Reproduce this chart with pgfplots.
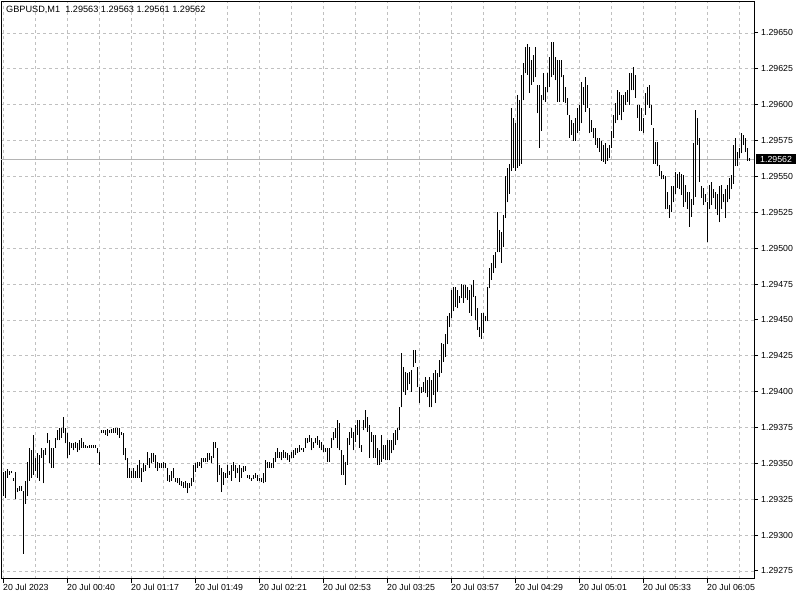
\documentclass[border=0pt]{standalone}
\usepackage{pgfplots}
\usepackage{pgfplotstable}
\pgfplotsset{compat=1.18}
\usepackage{fontspec}
\setmainfont{Liberation Sans}

% GBPUSD M1 bars, low / high in points above 1.29000 (e.g. 563 = 1.29563)
\pgfplotstableread[row sep=\\]{
lo hi\\
327 344\\ 326 345\\ 340 346\\ 342 345\\ 343 345\\ 338 340\\ 325 344\\ 330 333\\ 331 334\\ 331 334\\
287 331\\ 322 338\\ 327 351\\ 338 361\\ 340 359\\ 342 370\\ 345 354\\ 340 357\\ 338 356\\ 354 361\\
336 359\\ 356 361\\ 364 371\\ 350 366\\ 347 361\\ 347 361\\ 361 368\\ 366 373\\ 366 375\\ 368 375\\
371 382\\ 364 375\\ 354 371\\ 356 365\\ 361 364\\ 359 364\\ 361 365\\ 358 364\\ 359 366\\ 361 368\\
361 365\\ 361 363\\ 361 362\\ 361 363\\ 361 363\\ 361 363\\ 361 363\\ 357 361\\ 349 358\\ 371 373\\
371 373\\ 370 373\\ 369 374\\ 371 373\\ 371 374\\ 371 375\\ 371 375\\ 370 375\\ 368 375\\ 370 372\\
356 371\\ 352 361\\ 340 354\\ 340 347\\ 340 345\\ 340 347\\ 340 345\\ 340 349\\ 340 352\\ 337 347\\
344 350\\ 345 349\\ 349 358\\ 347 354\\ 350 357\\ 351 357\\ 347 356\\ 345 351\\ 347 350\\ 347 350\\
347 351\\ 347 350\\ 338 347\\ 337 342\\ 338 345\\ 340 347\\ 337 340\\ 336 340\\ 335 340\\ 334 338\\
333 337\\ 333 338\\ 329 336\\ 333 336\\ 334 340\\ 337 349\\ 344 350\\ 347 351\\ 348 351\\ 347 354\\
351 354\\ 351 354\\ 351 357\\ 352 357\\ 350 355\\ 354 365\\ 361 365\\ 337 361\\ 342 349\\ 330 347\\
335 344\\ 340 343\\ 340 349\\ 342 345\\ 338 349\\ 345 351\\ 340 349\\ 343 347\\ 337 349\\ 340 347\\
344 348\\ 345 348\\ 340 342\\ 339 342\\ 338 340\\ 339 342\\ 340 343\\ 338 342\\ 338 340\\ 337 340\\
336 343\\ 337 352\\ 347 351\\ 347 351\\ 347 350\\ 347 354\\ 351 358\\ 354 361\\ 354 358\\ 352 358\\
354 359\\ 354 358\\ 352 357\\ 351 356\\ 354 358\\ 354 359\\ 356 361\\ 357 361\\ 358 363\\ 359 361\\
358 361\\ 361 368\\ 364 368\\ 365 370\\ 359 368\\ 361 365\\ 364 368\\ 363 369\\ 361 366\\ 359 365\\
358 363\\ 358 361\\ 351 361\\ 351 361\\ 361 368\\ 366 372\\ 368 375\\ 361 380\\ 359 378\\ 342 359\\
342 356\\ 335 351\\ 349 368\\ 363 372\\ 368 375\\ 359 372\\ 365 377\\ 370 380\\ 361 380\\ 358 363\\
373 380\\ 375 387\\ 372 382\\ 354 377\\ 365 372\\ 354 370\\ 354 370\\ 349 361\\ 349 359\\ 351 370\\
353 363\\ 352 363\\ 352 366\\ 352 366\\ 357 366\\ 359 371\\ 363 373\\ 366 375\\ 373 389\\ 389 427\\
400 417\\ 398 414\\ 401 413\\ 405 414\\ 400 415\\ 417 429\\ 420 429\\ 403 417\\ 392 403\\ 399 403\\
400 407\\ 399 410\\ 396 408\\ 389 410\\ 389 408\\ 398 413\\ 392 415\\ 400 413\\ 410 422\\ 413 434\\
421 433\\ 424 440\\ 433 453\\ 445 455\\ 451 471\\ 456 473\\ 459 473\\ 458 471\\ 462 467\\ 465 475\\
462 474\\ 465 474\\ 464 473\\ 455 471\\ 453 474\\ 466 478\\ 450 467\\ 443 458\\ 438 445\\ 437 455\\
441 455\\ 449 453\\ 449 473\\ 472 486\\ 478 490\\ 483 495\\ 486 497\\ 497 525\\ 497 513\\ 490 511\\
501 523\\ 521 550\\ 532 556\\ 538 559\\ 554 598\\ 556 591\\ 554 587\\ 556 607\\ 557 603\\ 559 621\\
603 629\\ 622 640\\ 621 642\\ 608 640\\ 614 631\\ 616 635\\ 619 640\\ 594 614\\ 570 614\\ 582 607\\
603 622\\ 602 612\\ 609 622\\ 612 633\\ 619 644\\ 621 644\\ 617 633\\ 602 631\\ 602 631\\ 619 631\\
602 621\\ 601 612\\ 593 605\\ 577 593\\ 579 589\\ 575 587\\ 575 591\\ 580 598\\ 582 600\\ 587 616\\
600 612\\ 595 619\\ 598 614\\ 580 598\\ 581 589\\ 577 584\\ 572 584\\ 570 577\\ 567 577\\ 561 575\\
560 572\\ 559 573\\ 561 570\\ 563 572\\ 570 582\\ 577 593\\ 587 601\\ 589 610\\ 593 609\\ 589 607\\
595 607\\ 600 609\\ 602 610\\ 600 622\\ 610 622\\ 610 626\\ 605 621\\ 591 600\\ 582 600\\ 582 598\\
580 591\\ 593 608\\ 600 612\\ 598 614\\ 586 600\\ 559 584\\ 559 574\\ 557 574\\ 550 558\\ 548 554\\
548 551\\ 527 550\\ 527 539\\ 521 530\\ 525 543\\ 532 543\\ 538 553\\ 542 552\\ 541 553\\ 537 552\\
529 551\\ 532 544\\ 527 539\\ 515 539\\ 522 534\\ 530 573\\ 536 596\\ 572 591\\ 546 577\\ 535 543\\
530 542\\ 532 538\\ 504 532\\ 527 544\\ 530 546\\ 535 541\\ 527 539\\ 523 538\\ 518 543\\ 527 544\\
532 538\\ 521 541\\ 532 544\\ 534 549\\ 541 551\\ 545 572\\ 557 577\\ 557 567\\ 563 570\\ 566 580\\
572 579\\ 567 577\\ 561 570\\ 561 563\\
}\bars

\definecolor{gridgray}{RGB}{192,192,192}
\definecolor{bidgray}{RGB}{180,180,180}

\begin{document}
\begin{tikzpicture}
\useasboundingbox (0,0) rectangle (800bp,600bp);
\begin{axis}[
    at={(1bp,21bp)}, anchor=south west,
    scale only axis, width=753bp, height=577bp,
    clip=false,
    xmin=-1, xmax=375.5,
    ymin=269.4, ymax=671.6,
    axis line style={black, line width=1bp},
    tick align=outside,
    major tick length=4bp, minor tick length=0pt,
    tick style={black, line width=1bp},
    xtick pos=bottom, ytick pos=right,
    yticklabel pos=right,
    xtick={0,32,...,352},
    xticklabels={20 Jul 2023, 20 Jul 00:40, 20 Jul 01:17, 20 Jul 01:49,
                 20 Jul 02:21, 20 Jul 02:53, 20 Jul 03:25, 20 Jul 03:57,
                 20 Jul 04:29, 20 Jul 05:01, 20 Jul 05:33, 20 Jul 06:05},
    minor xtick={16,48,...,368},
    ytick={275,300,...,650},
    yticklabels={1.29275,1.29300,1.29325,1.29350,1.29375,1.29400,1.29425,1.29450,
                 1.29475,1.29500,1.29525,1.29550,1.29575,1.29600,1.29625,1.29650},
    xmajorgrids, xminorgrids, ymajorgrids,
    major grid style={gridgray, line width=0.8bp, dash pattern=on 3bp off 3bp},
    minor grid style={gridgray, line width=0.8bp, dash pattern=on 3bp off 3bp},
    tick label style={font=\fontsize{8.8}{10}\selectfont, inner sep=0pt},
    xticklabel style={anchor=north west, yshift=-1bp},
    yticklabel style={anchor=west, xshift=3bp},
]
% current bid line
\addplot[bidgray, line width=1bp, forget plot] coordinates {(-1,562) (375.5,562)};

% high-low bars
\addplot[draw=none, mark=none, forget plot,
    error bars/.cd, y dir=plus, y explicit, error mark=none,
    error bar style={draw=black, solid, line width=1bp}]
    table[x expr=\coordindex, y=lo, y error plus expr=\thisrow{hi}-\thisrow{lo}] {\bars};

\node[fill=black, text=white, anchor=west, inner xsep=4bp, inner ysep=2bp,
      font=\fontsize{8.8}{10}\selectfont, xshift=2bp] at (axis cs:375.5,562) {1.29562};
\node[anchor=north west, inner sep=0pt, xshift=5bp, yshift=-3.5bp,
      font=\fontsize{9.2}{10}\selectfont] at (rel axis cs:0,1)
      {GBPUSD,M1\ \ 1.29563 1.29563 1.29561 1.29562};
\end{axis}
\end{tikzpicture}
\end{document}
